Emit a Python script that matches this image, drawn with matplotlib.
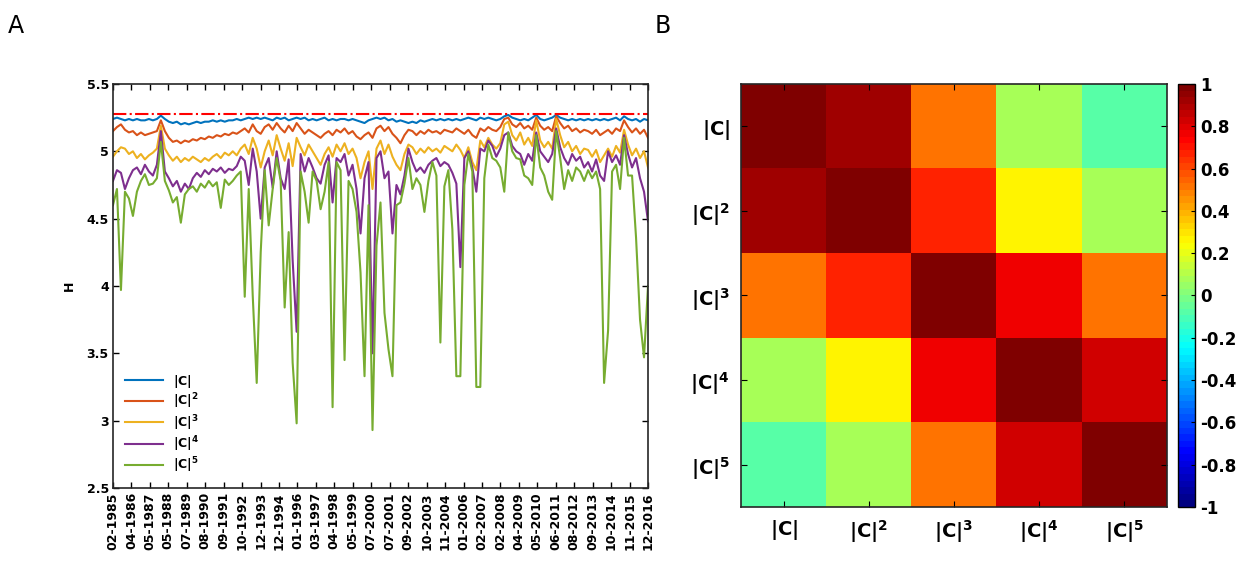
import numpy as np
import matplotlib
matplotlib.use('Agg')
import matplotlib.pyplot as plt
from matplotlib.colors import LinearSegmentedColormap

plt.rcParams['font.family'] = 'DejaVu Sans'
plt.rcParams['mathtext.default'] = 'bf'

# dates shown on the time axis (evenly spaced)
date_labels = ['02-1985', '04-1986', '05-1987', '05-1988', '07-1989', '08-1990',
               '09-1991', '10-1992', '12-1993', '12-1994', '01-1996', '03-1997',
               '04-1998', '05-1999', '07-2000', '07-2001', '09-2002', '10-2003',
               '11-2004', '01-2006', '02-2007', '02-2008', '04-2009', '05-2010',
               '06-2011', '08-2012', '09-2013', '10-2014', '11-2015', '12-2016']

# entropy H of |C|^k
h_c1 = [5.24, 5.25, 5.24, 5.23, 5.24, 5.23, 5.24, 5.23, 5.23, 5.24,
        5.23, 5.24, 5.265, 5.24, 5.22, 5.21, 5.22, 5.20, 5.21, 5.20,
        5.21, 5.22, 5.21, 5.22, 5.22, 5.23, 5.22, 5.23, 5.22, 5.23,
        5.23, 5.24, 5.23, 5.24, 5.25, 5.24, 5.25, 5.24, 5.25, 5.24,
        5.23, 5.25, 5.24, 5.25, 5.23, 5.24, 5.25, 5.24, 5.25, 5.23,
        5.24, 5.23, 5.24, 5.25, 5.23, 5.24, 5.23, 5.24, 5.24, 5.23,
        5.24, 5.23, 5.22, 5.21, 5.23, 5.24, 5.25, 5.24, 5.25, 5.23,
        5.24, 5.22, 5.23, 5.22, 5.21, 5.22, 5.21, 5.23, 5.22, 5.23,
        5.24, 5.23, 5.24, 5.23, 5.24, 5.23, 5.24, 5.23, 5.24, 5.25,
        5.24, 5.23, 5.25, 5.24, 5.25, 5.24, 5.23, 5.24, 5.26, 5.27,
        5.25, 5.24, 5.23, 5.24, 5.23, 5.25, 5.27, 5.24, 5.23, 5.24,
        5.25, 5.27, 5.25, 5.24, 5.23, 5.24, 5.23, 5.24, 5.23, 5.24,
        5.23, 5.24, 5.23, 5.24, 5.23, 5.24, 5.25, 5.23, 5.26, 5.24,
        5.23, 5.24, 5.22, 5.24, 5.23]
h_c2 = [5.15, 5.18, 5.20, 5.16, 5.14, 5.15, 5.12, 5.14, 5.12, 5.13,
        5.14, 5.15, 5.23, 5.15, 5.10, 5.07, 5.08, 5.06, 5.08, 5.07,
        5.09, 5.08, 5.10, 5.09, 5.11, 5.10, 5.12, 5.11, 5.13, 5.12,
        5.14, 5.13, 5.15, 5.17, 5.14, 5.20, 5.15, 5.13, 5.18, 5.20,
        5.16, 5.21, 5.17, 5.14, 5.19, 5.15, 5.21, 5.17, 5.13, 5.16,
        5.14, 5.12, 5.10, 5.13, 5.15, 5.12, 5.16, 5.14, 5.17, 5.13,
        5.15, 5.11, 5.09, 5.12, 5.14, 5.10, 5.17, 5.19, 5.15, 5.18,
        5.13, 5.10, 5.06, 5.12, 5.16, 5.15, 5.12, 5.15, 5.13, 5.16,
        5.14, 5.15, 5.13, 5.16, 5.15, 5.14, 5.17, 5.15, 5.13, 5.16,
        5.12, 5.10, 5.17, 5.15, 5.18, 5.16, 5.15, 5.18, 5.24, 5.25,
        5.20, 5.18, 5.21, 5.17, 5.19, 5.16, 5.25, 5.19, 5.16, 5.18,
        5.15, 5.26, 5.21, 5.17, 5.19, 5.15, 5.17, 5.14, 5.16, 5.15,
        5.13, 5.16, 5.12, 5.14, 5.16, 5.13, 5.17, 5.15, 5.23, 5.18,
        5.14, 5.17, 5.13, 5.16, 5.10]
h_c3 = [4.96, 5.00, 5.03, 5.02, 4.98, 5.00, 4.95, 4.98, 4.94, 4.97,
        4.99, 5.02, 5.19, 5.02, 4.97, 4.93, 4.96, 4.92, 4.95, 4.93,
        4.96, 4.94, 4.92, 4.95, 4.93, 4.96, 4.98, 4.95, 4.99, 4.97,
        5.00, 4.97, 5.02, 5.05, 4.98, 5.10, 5.02, 4.88, 5.00, 5.08,
        4.97, 5.12, 5.02, 4.93, 5.06, 4.89, 5.10, 5.03, 4.97, 5.05,
        5.00, 4.95, 4.90, 4.98, 5.03, 4.96, 5.05, 5.00, 5.06, 4.98,
        5.02, 4.95, 4.80, 4.92, 5.00, 4.72, 5.02, 5.08, 4.98, 5.05,
        4.96, 4.90, 4.86, 4.98, 5.05, 5.03, 4.98, 5.02, 4.99, 5.03,
        5.00, 5.02, 4.99, 5.04, 5.02, 5.00, 5.05, 5.01, 4.95, 5.03,
        4.92, 4.86, 5.08, 5.03, 5.10, 5.05, 5.02, 5.06, 5.20, 5.22,
        5.12, 5.08, 5.14, 5.05, 5.10, 5.04, 5.23, 5.08, 5.03, 5.07,
        5.02, 5.24, 5.12, 5.03, 5.07, 5.00, 5.04, 4.98, 5.02, 5.01,
        4.96, 5.01, 4.92, 4.97, 5.02, 4.96, 5.04, 4.99, 5.16, 5.05,
        4.97, 5.02, 4.95, 5.00, 4.88]
h_c4 = [4.78, 4.86, 4.84, 4.72, 4.80, 4.86, 4.88, 4.83, 4.90, 4.85,
        4.82, 4.90, 5.15, 4.85, 4.80, 4.74, 4.78, 4.70, 4.76, 4.72,
        4.80, 4.84, 4.81, 4.86, 4.83, 4.87, 4.85, 4.88, 4.84, 4.87,
        4.86, 4.89, 4.96, 4.93, 4.75, 5.02, 4.85, 4.50, 4.88, 4.95,
        4.73, 5.00, 4.80, 4.72, 4.94, 4.19, 3.66, 4.98, 4.85, 4.95,
        4.88, 4.80, 4.76, 4.90, 4.97, 4.62, 4.95, 4.92, 4.98, 4.82,
        4.90, 4.72, 4.39, 4.80, 4.92, 3.50, 4.95, 5.00, 4.80, 4.85,
        4.39, 4.75, 4.68, 4.82, 5.02, 4.92, 4.85, 4.88, 4.84, 4.90,
        4.93, 4.95, 4.89, 4.92, 4.90, 4.84, 4.76, 4.14, 4.95, 5.00,
        4.88, 4.70, 5.02, 5.00, 5.08, 5.04, 4.96, 5.02, 5.12, 5.14,
        5.04, 5.00, 4.98, 4.90, 4.98, 4.93, 5.14, 5.00, 4.96, 4.92,
        4.98, 5.17, 5.03, 4.95, 4.90, 4.98, 4.93, 4.96, 4.88, 4.92,
        4.85, 4.94, 4.82, 4.78, 5.00, 4.92, 4.97, 4.90, 5.12, 4.98,
        4.88, 4.95, 4.80, 4.70, 4.48]
h_c5 = [4.60, 4.72, 3.97, 4.70, 4.65, 4.52, 4.70, 4.78, 4.83, 4.75,
        4.76, 4.80, 5.07, 4.78, 4.71, 4.62, 4.66, 4.47, 4.68, 4.72,
        4.74, 4.70, 4.76, 4.73, 4.78, 4.74, 4.77, 4.58, 4.79, 4.75,
        4.78, 4.82, 4.85, 3.92, 4.72, 3.93, 3.28, 4.25, 4.86, 4.45,
        4.72, 4.95, 4.78, 3.84, 4.40, 3.43, 2.98, 4.85, 4.70, 4.47,
        4.85, 4.78, 4.57, 4.70, 4.92, 3.10, 4.92, 4.86, 3.45, 4.78,
        4.72, 4.55, 4.10, 3.33, 4.60, 2.93, 4.30, 4.62, 3.80, 3.53,
        3.33, 4.60, 4.62, 4.76, 4.95, 4.72, 4.80, 4.75, 4.55, 4.78,
        4.92, 4.82, 3.58, 4.74, 4.86, 4.42, 3.33, 3.33, 4.75, 4.98,
        4.85, 3.25, 3.25, 4.80, 5.05, 4.95, 4.93, 4.88, 4.70, 5.14,
        5.00, 4.95, 4.94, 4.82, 4.80, 4.75, 5.12, 4.88, 4.82, 4.70,
        4.64, 5.15, 4.95, 4.72, 4.86, 4.78, 4.88, 4.85, 4.78, 4.86,
        4.80, 4.85, 4.72, 3.28, 3.67, 4.85, 4.90, 4.72, 5.10, 4.82,
        4.82, 4.36, 3.75, 3.47, 4.00]
h_max = 5.275

# correlation between the five series
corr_labels = ['$|C|$', '$|C|^2$', '$|C|^3$', '$|C|^4$', '$|C|^5$']
corr = [[1.00, 0.93, 0.50, 0.08, -0.08],
        [0.93, 1.00, 0.68, 0.25, 0.08],
        [0.50, 0.68, 1.00, 0.78, 0.50],
        [0.08, 0.25, 0.78, 1.00, 0.84],
        [-0.08, 0.08, 0.50, 0.84, 1.00]]

colors = ['#0072BD', '#D95319', '#EDB120', '#7E2F8E', '#77AC30']

# matlab style jet, 64 levels
jet_m = LinearSegmentedColormap('jet_m', {
    'red':   [(0, 0, 0), (3/8, 0, 0), (5/8, 1, 1), (7/8, 1, 1), (1, 0.5, 0.5)],
    'green': [(0, 0, 0), (1/8, 0, 0), (3/8, 1, 1), (5/8, 1, 1), (7/8, 0, 0), (1, 0, 0)],
    'blue':  [(0, 0.5, 0.5), (1/8, 1, 1), (3/8, 1, 1), (5/8, 0, 0), (1, 0, 0)],
}, N=64)

fig = plt.figure(figsize=(12.51, 5.64), dpi=100, facecolor='white')

# ---- panel A: time series ----
ax = fig.add_axes([0.0903, 0.1348, 0.4277, 0.7163])
x = np.arange(len(h_c1))
for series, col, lab in zip([h_c1, h_c2, h_c3, h_c4, h_c5], colors, corr_labels):
    ax.plot(x, series, color=col, lw=1.5, label=lab)
ax.axhline(h_max, color='r', ls='-.', lw=1.5)

ax.set_xlim(0, x[-1])
ax.set_ylim(2.5, 5.5)
ax.set_xticks(np.linspace(0, x[-1], len(date_labels)))
ax.set_xticklabels(date_labels, rotation=90, fontsize=9, fontweight='bold')
yt = [2.5, 3, 3.5, 4, 4.5, 5, 5.5]
ax.set_yticks(yt)
ax.set_yticklabels(['2.5', '3', '3.5', '4', '4.5', '5', '5.5'], fontsize=9, fontweight='bold')
ax.set_ylabel('H', fontsize=9, fontweight='bold', labelpad=8)
ax.tick_params(direction='in', top=True, right=True, length=4, width=1, pad=3)
for sp in ax.spines.values():
    sp.set_linewidth(1.2)
    sp.set_color('#262626')
ax.legend(loc='lower left', frameon=False, fontsize=9, handlelength=3,
          labelspacing=0.15, borderaxespad=0.6)

# ---- panel B: correlation matrix ----
axb = fig.add_axes([0.5923, 0.1011, 0.3405, 0.75])
im = axb.imshow(corr, cmap=jet_m, vmin=-1, vmax=1, aspect='auto')
axb.set_xticks(range(5))
axb.set_yticks(range(5))
axb.set_xticklabels(corr_labels, fontsize=14)
axb.set_yticklabels(corr_labels, fontsize=14)
axb.tick_params(direction='in', top=True, right=True, length=4, pad=8)
for sp in axb.spines.values():
    sp.set_linewidth(1.2)
    sp.set_color('#262626')

cax = fig.add_axes([0.9417, 0.1011, 0.0136, 0.75])
cb = fig.colorbar(im, cax=cax)
cticks = np.round(np.arange(-1, 1.01, 0.2), 1)
cb.set_ticks(cticks)
cb.set_ticklabels(['-1', '-0.8', '-0.6', '-0.4', '-0.2', '0', '0.2', '0.4', '0.6', '0.8', '1'])
for t in cax.get_yticklabels():
    t.set_fontsize(12)
    t.set_fontweight('bold')
cax.tick_params(direction='in', length=3)
cb.outline.set_linewidth(1)

fig.text(0.006, 0.975, 'A', fontsize=17, va='top')
fig.text(0.523, 0.975, 'B', fontsize=17, va='top')

plt.savefig('out.png', dpi=100)
